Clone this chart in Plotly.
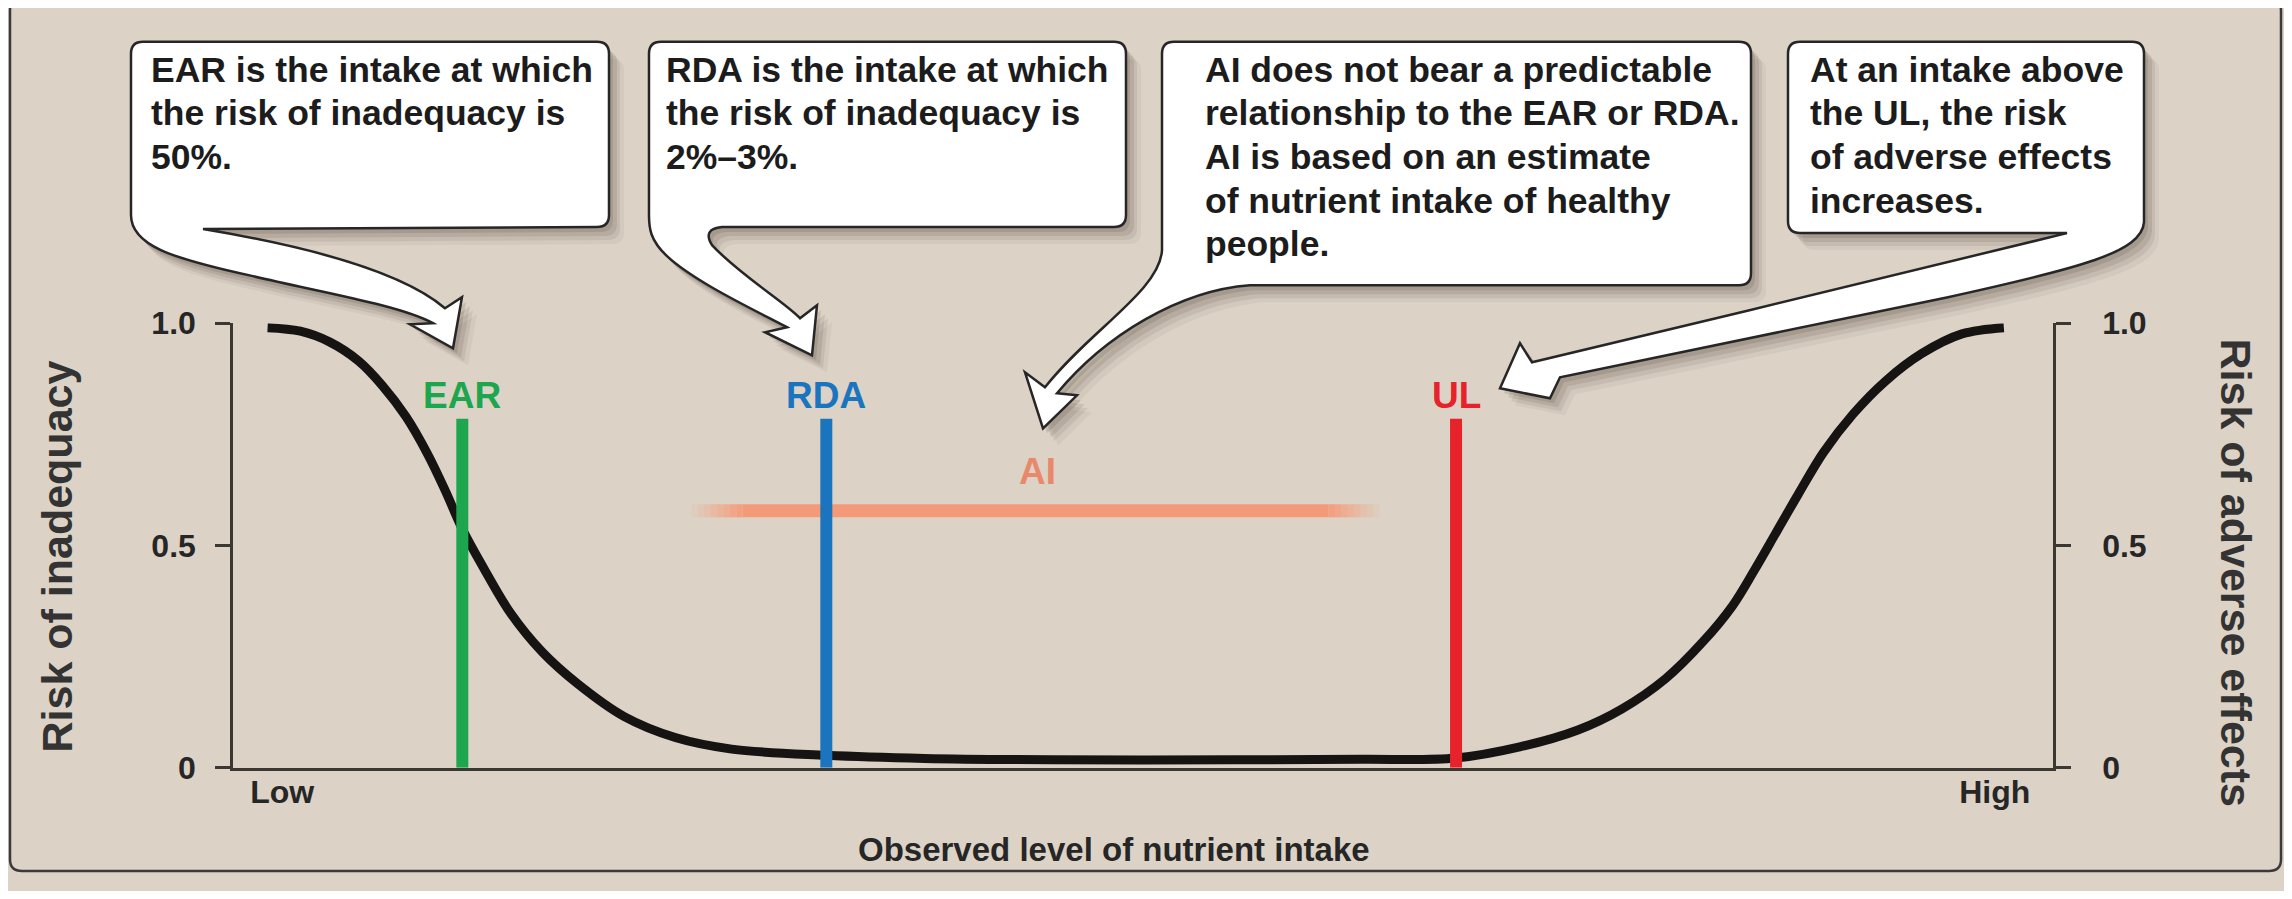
import plotly.graph_objects as go

# page is 2292x899 with an 8px body margin -> figure is 2276x883 placed at (8,8)
PW, PH = 2292, 899
OFF = 8
FW, FH = PW - 2 * OFF, PH - 2 * OFF
# observed vertical mapping of the photographed page: shown_y = SY * page_y + BY
SY, BY = 0.958, 18.5

# ---------------- data ----------------
curve_x = [1.9, 3.7, 5.3, 6.9, 8.2, 9.5, 10.7, 11.7, 12.6, 13.9, 15.3, 17.0, 18.9, 21.5, 24.3,
           27.4, 32.6, 38.0, 45.0, 55.0, 62.0, 67.2, 70.7, 73.9, 76.3, 78.7, 80.8, 82.4,
           83.6, 84.8, 86.0, 87.4, 89.0, 90.8, 92.8, 95.0, 97.3]
curve_y = [0.99, 0.982, 0.958, 0.915, 0.86, 0.79, 0.705, 0.62, 0.537, 0.44, 0.345, 0.26,
           0.19, 0.115, 0.068, 0.042, 0.028, 0.021, 0.018, 0.018, 0.019, 0.022, 0.047,
           0.085, 0.132, 0.2, 0.285, 0.365, 0.445, 0.53, 0.615, 0.71, 0.795, 0.87, 0.932,
           0.976, 0.99]

ref_names = ["EAR", "RDA", "UL"]
ref_x = [12.6, 32.6, 67.2]
ref_top = [0.785, 0.785, 0.785]
ref_label_y = [0.837, 0.837, 0.837]
ref_colors = ["#1ea64f", "#1b74be", "#e6222b"]

ai_x = [25.2, 63.0]
ai_y = 0.578
ai_label_x = 44.2
ai_label_y = 0.666

y_tickvals = [0, 0.5, 1.0]
y_ticktext = ["0", "0.5", "1.0"]
x_tickvals = [2.7, 96.8]
x_ticktext = ["Low", "High"]

ear_text = ["EAR is the intake at which", "the risk of inadequacy is", "50%."]
rda_text = ["RDA is the intake at which", "the risk of inadequacy is", "2%\u20133%."]
ai_text = ["AI does not bear a predictable", "relationship to the EAR or RDA.",
           "AI is based on an estimate", "of nutrient intake of healthy", "people."]
ul_text = ["At an intake above", "the UL, the risk", "of adverse effects", "increases."]

# ---------------- styling (target pixel coordinates) ----------------
X0, X1 = 233, 2053
YT, YB = 323, 767
PANEL = "#dcd3c6"
AXC = "#3b3733"
SANS = "Liberation Sans, Arial, Helvetica, sans-serif"
TXT = "#1c1c1c"


def page_y(y):
    return (y - BY) / SY


def px2paper(x, y, raw=False):
    yy = y if raw else page_y(y)
    return (x - OFF) / FW, 1 - (yy - OFF) / FH


def pp(x, y, dx=0, dy=0, raw=False):
    a, b = px2paper(x + dx, y + dy, raw)
    return f"{a:.5f},{b:.5f}"


def build(cmds, dx=0, dy=0, raw=False):
    parts = []
    for c in cmds:
        if c[0] == 'Z':
            parts.append('Z')
        else:
            parts.append(c[0] + ' ' + ' '.join(pp(x, y, dx, dy, raw) for x, y in c[1:]))
    return ' '.join(parts)


fig = go.Figure()

# AI line with faded ends
ai_col = (245, 154, 120)
fade, nseg = 2.8, 8
fig.add_trace(go.Scatter(x=[ai_x[0] + fade, ai_x[1] - fade], y=[ai_y, ai_y], mode="lines",
                         line=dict(color=f"rgb{ai_col}", width=13), hoverinfo="skip",
                         showlegend=False))
for i in range(nseg):
    a = (i + 1) / (nseg + 1)
    for side in (0, 1):
        if side == 0:
            xa, xb = ai_x[0] + fade * i / nseg, ai_x[0] + fade * (i + 1) / nseg
        else:
            xa, xb = ai_x[1] - fade * (i + 1) / nseg, ai_x[1] - fade * i / nseg
        fig.add_trace(go.Scatter(x=[xa, xb], y=[ai_y, ai_y], mode="lines",
                                 line=dict(color=f"rgba({ai_col[0]},{ai_col[1]},{ai_col[2]},{a:.2f})",
                                           width=13),
                                 hoverinfo="skip", showlegend=False))

# main curve
fig.add_trace(go.Scatter(x=curve_x, y=curve_y, mode="lines",
                         line=dict(color="#161412", width=9, shape="spline", smoothing=1.0),
                         hoverinfo="skip", showlegend=False))

# reference lines
for name, xv, top, col in zip(ref_names, ref_x, ref_top, ref_colors):
    fig.add_trace(go.Scatter(x=[xv, xv], y=[0, top], mode="lines",
                             line=dict(color=col, width=12), hoverinfo="skip",
                             showlegend=False, yaxis="y2" if name == "UL" else "y"))

annotations = []
for name, xv, ly, col in zip(ref_names, ref_x, ref_label_y, ref_colors):
    annotations.append(dict(x=xv, y=ly, xref="x", yref="y", text=f"<b>{name}</b>",
                            showarrow=False, font=dict(family=SANS, size=37, color=col),
                            xanchor="center", yanchor="middle"))
annotations.append(dict(x=ai_label_x, y=ai_label_y, xref="x", yref="y", text="<b>AI</b>",
                        showarrow=False, font=dict(family=SANS, size=37, color="#e8896b"),
                        xanchor="center", yanchor="middle"))

# ---------------- shapes: panel + callouts ----------------
shapes = []
pl, pt, pr, pb, r = 10, -20, 2281, 889, 12
panel = [('M', (pl, pt + r)), ('Q', (pl, pt), (pl + r, pt)), ('L', (pr - r, pt)),
         ('Q', (pr, pt), (pr, pt + r)), ('L', (pr, pb - r)), ('Q', (pr, pb), (pr - r, pb)),
         ('L', (pl + r, pb)), ('Q', (pl, pb), (pl, pb - r)), ('Z',)]
shapes.append(dict(type="path", xref="paper", yref="paper", path=build(panel, raw=True),
                   fillcolor=PANEL, line=dict(color="#3a3a3a", width=2.5), layer="below"))

BT = 42  # callout box top
ear_path = [('M', (131, BT + 12)), ('Q', (131, BT), (143, BT)), ('L', (597, BT)),
            ('Q', (609, BT), (609, BT + 12)), ('L', (609, 215)), ('Q', (609, 227), (597, 227)),
            ('L', (203, 229)), ('C', (300, 245), (400, 270), (445, 308)),
            ('L', (462, 297)), ('L', (453, 348)), ('L', (410, 324)), ('L', (433, 323)),
            ('C', (400, 305), (320, 292), (253, 276)),
            ('C', (170, 258), (131, 245), (131, 215)), ('Z',)]
rda_path = [('M', (649, BT + 12)), ('Q', (649, BT), (661, BT)), ('L', (1114, BT)),
            ('Q', (1126, BT), (1126, BT + 12)), ('L', (1126, 215)), ('Q', (1126, 227), (1114, 227)),
            ('L', (722, 227)), ('Q', (702, 229), (712, 245)),
            ('C', (740, 275), (785, 302), (800, 318)),
            ('L', (817, 305)), ('L', (812, 355)), ('L', (765, 332)), ('L', (787, 327)),
            ('C', (755, 310), (695, 282), (667, 256)),
            ('C', (650, 240), (649, 228), (649, 215)), ('Z',)]
ai_path = [('M', (1162, BT + 12)), ('Q', (1162, BT), (1174, BT)), ('L', (1739, BT)),
           ('Q', (1751, BT), (1751, BT + 12)), ('L', (1751, 273)), ('Q', (1751, 285), (1739, 285)),
           ('L', (1250, 285)), ('C', (1180, 290), (1105, 335), (1057, 393)),
           ('L', (1077, 395)), ('L', (1043, 428)), ('L', (1025, 372)), ('L', (1045, 387)),
           ('C', (1090, 330), (1160, 290), (1162, 250)), ('Z',)]
ul_path = [('M', (1788, BT + 12)), ('Q', (1788, BT), (1800, BT)), ('L', (2132, BT)),
           ('Q', (2144, BT), (2144, BT + 12)), ('L', (2144, 222)),
           ('C', (2142, 252), (2080, 268), (1948, 297)), ('L', (1560, 377)),
           ('L', (1550, 398)), ('L', (1500, 388)), ('L', (1520, 343)), ('L', (1532, 362)),
           ('C', (1700, 322), (1950, 262), (2067, 233)), ('L', (1800, 233)),
           ('Q', (1788, 233), (1788, 221)), ('Z',)]

for cmds in (ear_path, rda_path, ai_path, ul_path):
    for (dx, dy, a) in ((15, 17, 0.06), (11, 13, 0.09), (8, 9, 0.12), (4, 5, 0.15)):
        shapes.append(dict(type="path", xref="paper", yref="paper", path=build(cmds, dx, dy),
                           fillcolor=f"rgba(70,58,45,{a})", line=dict(width=0), layer="above"))
    shapes.append(dict(type="path", xref="paper", yref="paper", path=build(cmds),
                       fillcolor="#ffffff", line=dict(color="#262626", width=2.5), layer="above"))

# callout text, one annotation per line
LINE0, LSP = 70, 43.5
for tx, lines in ((150, ear_text), (665, rda_text), (1204, ai_text), (1809, ul_text)):
    for k, line in enumerate(lines):
        ax_, ay_ = px2paper(tx, LINE0 + LSP * k)
        annotations.append(dict(x=ax_, y=ay_, xref="paper", yref="paper",
                                text=f"<b>{line}</b>", showarrow=False, xanchor="left",
                                yanchor="middle", borderpad=0,
                                font=dict(family=SANS, size=35.5, color=TXT)))

# axis titles
for txt, (tx, ty), ang in (("Risk of inadequacy", (57, 556), -90),
                           ("Risk of adverse effects", (2236, 572), 90)):
    ax_, ay_ = px2paper(tx, ty)
    annotations.append(dict(x=ax_, y=ay_, xref="paper", yref="paper", text=f"<b>{txt}</b>",
                            textangle=ang, showarrow=False, xanchor="center", yanchor="middle",
                            font=dict(family=SANS, size=43, color="#333333")))
ax_, ay_ = px2paper(1114, 849)
annotations.append(dict(x=ax_, y=ay_, xref="paper", yref="paper",
                        text="<b>Observed level of nutrient intake</b>", showarrow=False,
                        xanchor="center", yanchor="middle",
                        font=dict(family=SANS, size=33, color="#262626")))

xd0, _ = px2paper(X0, 0)
xd1, _ = px2paper(X1, 0)
_, yd0 = px2paper(0, YB)
_, yd1 = px2paper(0, YT)
ydom = [yd0, yd1]
tickfont = dict(family=SANS, size=32, color="#262626", weight="bold")
fig.update_layout(
    width=FW, height=FH, margin=dict(l=0, r=0, t=0, b=0),
    paper_bgcolor=PANEL, plot_bgcolor="rgba(0,0,0,0)",
    showlegend=False,
    xaxis=dict(domain=[xd0, xd1], range=[0, 100], showgrid=False, zeroline=False,
               showline=True, linecolor=AXC, linewidth=2.5, ticks="",
               tickvals=x_tickvals, ticktext=x_ticktext, ticklabelstandoff=-6,
               tickfont=tickfont),
    yaxis=dict(domain=ydom, range=[0, 1], showgrid=False, zeroline=False,
               showline=True, linecolor=AXC, linewidth=2.5, ticks="outside", ticklen=15,
               tickwidth=2.5, tickcolor=AXC, tickvals=y_tickvals, ticktext=y_ticktext,
               ticklabelstandoff=13, tickfont=tickfont),
    yaxis2=dict(domain=ydom, range=[0, 1], overlaying="y", side="right", anchor="x",
                showgrid=False, zeroline=False, showline=True, linecolor=AXC, linewidth=2.5,
                ticks="outside", ticklen=15, tickwidth=2.5, tickcolor=AXC,
                tickvals=y_tickvals, ticktext=y_ticktext, ticklabelstandoff=25,
                tickfont=tickfont),
    shapes=shapes, annotations=annotations,
)

fig.write_html("out.html")
